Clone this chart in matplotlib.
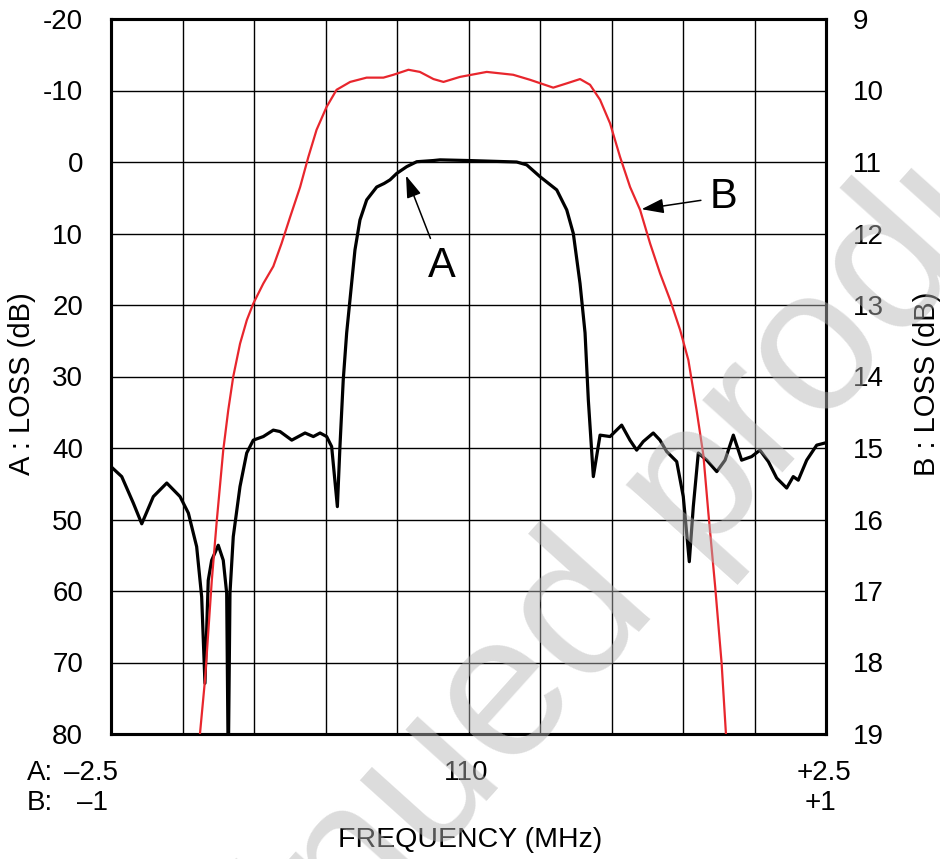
import numpy as np
import matplotlib
matplotlib.use("Agg")
from matplotlib import pyplot as plt

plt.rcParams['font.family'] = ['Liberation Sans', 'DejaVu Sans']

# curve A: offset from 110 MHz (A scale, MHz) and loss (dB, left axis)
a_freq = [-2.495, -2.425, -2.344, -2.285, -2.204, -2.110, -2.017, -1.959, -1.901,
          -1.866, -1.843, -1.820, -1.796, -1.750, -1.715, -1.691, -1.680, -1.668,
          -1.645, -1.598, -1.551, -1.505, -1.435, -1.365, -1.318, -1.236, -1.143,
          -1.085, -1.038, -0.992, -0.957, -0.917, -0.899, -0.876, -0.852, -0.829,
          -0.794, -0.759, -0.712, -0.642, -0.590, -0.549, -0.502, -0.432, -0.362,
          -0.248, -0.199, 0.010, 0.337, 0.407, 0.500, 0.617, 0.687, 0.733, 0.780,
          0.815, 0.838, 0.873, 0.920, 0.990, 1.071, 1.129, 1.176, 1.222, 1.292,
          1.339, 1.386, 1.456, 1.502, 1.544, 1.572, 1.607, 1.666, 1.736, 1.794,
          1.852, 1.910, 1.980, 2.038, 2.097, 2.155, 2.225, 2.271, 2.306, 2.365,
          2.435, 2.493]
a_loss = [42.7, 44.0, 47.7, 50.6, 46.8, 44.9, 46.8, 49.1, 53.8,
          60.8, 72.9, 58.5, 55.7, 53.6, 55.7, 60.3, 85.0, 60.3,
          52.4, 45.4, 40.7, 38.9, 38.4, 37.5, 37.7, 38.9, 37.9,
          38.4, 37.9, 38.4, 39.8, 48.2, 39.8, 30.5, 23.9, 19.3,
          12.3, 8.1, 5.3, 3.5, 3.0, 2.5, 1.6, 0.65, -0.04,
          -0.2, -0.3, -0.2, 0.0, 0.4, 2.05, 3.9, 6.7, 10.0, 17.0,
          23.9, 33.3, 44.0, 38.2, 38.4, 36.8, 38.9, 40.3, 39.1, 37.9,
          38.9, 40.5, 41.9, 46.8, 55.9, 48.2, 40.7, 41.7, 43.3, 41.7,
          38.2, 41.7, 41.2, 40.3, 41.9, 44.2, 45.6, 44.0, 44.5, 41.7,
          39.6, 39.3]

# curve B: offset from 110 MHz (B scale, MHz) and loss (dB, right axis)
b_freq = [-0.751, -0.737, -0.718, -0.704, -0.686, -0.672, -0.658, -0.639, -0.620,
          -0.602, -0.574, -0.546, -0.523, -0.499, -0.471, -0.448, -0.425, -0.397,
          -0.369, -0.331, -0.285, -0.238, -0.210, -0.168, -0.136, -0.098, -0.070,
          -0.024, 0.051, 0.125, 0.172, 0.237, 0.275, 0.312, 0.340, 0.368, 0.396,
          0.424, 0.452, 0.480, 0.508, 0.536, 0.564, 0.592, 0.615, 0.638, 0.657,
          0.671, 0.690, 0.708, 0.720]
b_loss = [18.99, 18.24, 16.85, 16.01, 15.03, 14.47, 14.00, 13.54, 13.21,
          12.98, 12.70, 12.46, 12.14, 11.77, 11.35, 10.93, 10.55, 10.23,
          9.99, 9.88, 9.82, 9.82, 9.78, 9.71, 9.74, 9.84, 9.88,
          9.81, 9.74, 9.78, 9.85, 9.96, 9.90, 9.84, 9.92, 10.13, 10.46,
          10.93, 11.35, 11.67, 12.14, 12.56, 12.93, 13.35, 13.77, 14.47, 15.10,
          15.91, 16.94, 18.01, 18.99]

a_ticks = list(range(-20, 81, 10))
b_ticks = list(range(9, 20))

fig = plt.figure(figsize=(9.4, 8.59), dpi=100)
ax = fig.add_axes([111/940, 1 - 734/859, 715/940, 715/859])
ax.set_xlim(-2.5, 2.5)
ax.set_ylim(80, -20)
ax.set_xticks(np.arange(-2.5, 2.51, 0.5))
ax.set_xticklabels([])
ax.set_yticks(a_ticks)
ax.set_yticklabels([str(t) for t in a_ticks])
ax.tick_params(length=0, labelsize=20, pad=20)
ax.grid(True, color='black', lw=1.0)
for s in ax.spines.values():
    s.set_linewidth(2.2)
ax.set_ylabel('A : LOSS (dB)', fontsize=21)
ax.yaxis.set_label_coords((36 - 111) / 715, 0.49)

ax2 = ax.twinx()
ax2.set_ylim(19, 9)
ax2.set_yticks(b_ticks)
ax2.tick_params(length=0, labelsize=20, pad=19)
for s in ax2.spines.values():
    s.set_linewidth(2.2)
ax2.set_ylabel('B : LOSS (dB)', fontsize=21, rotation=90)
ax2.yaxis.set_label_coords((913 - 111) / 715, 0.49)

ax.plot(a_freq, a_loss, color='black', lw=2.3, zorder=3)
ax2.plot(np.array(b_freq) * 2.5, b_loss, color='#e8262d', lw=1.6, zorder=3)

arrow = dict(arrowstyle='-|>,head_length=0.9,head_width=0.3', color='black',
             lw=1.1, mutation_scale=15, shrinkA=4, shrinkB=0)
ax.annotate('A', xy=(-0.437, 1.9), xytext=(-0.19, 14.6), fontsize=30,
            ha='center', va='center', arrowprops=arrow, zorder=5)
ax.annotate('B', xy=(1.21, 6.6), xytext=(1.78, 4.9), fontsize=30,
            ha='center', va='center', arrowprops=arrow, zorder=5)

# frequency labels under the axis
ty1, ty2 = 1 - 773/859, 1 - 803/859
fig.text(27/940, ty1, 'A:', fontsize=20, va='center')
fig.text(64/940, ty1, '\u20132.5', fontsize=20, va='center')
fig.text(466/940, ty1, '110', fontsize=20, va='center', ha='center')
fig.text(851/940, ty1, '+2.5', fontsize=20, va='center', ha='right')
fig.text(27/940, ty2, 'B:', fontsize=20, va='center')
fig.text(77/940, ty2, '\u20131', fontsize=20, va='center')
fig.text(836/940, ty2, '+1', fontsize=20, va='center', ha='right')
fig.text(470/940, 1 - 840/859, 'FREQUENCY (MHz)', fontsize=20.5, va='center', ha='center')

# watermark
fig.text(484/940, 1 - 725/859, 'discontinued product', fontsize=147,
         color='#b5b5b5', alpha=0.47,
         rotation=48, rotation_mode='anchor', ha='center', va='center')

fig.savefig('out.png', dpi=100)
